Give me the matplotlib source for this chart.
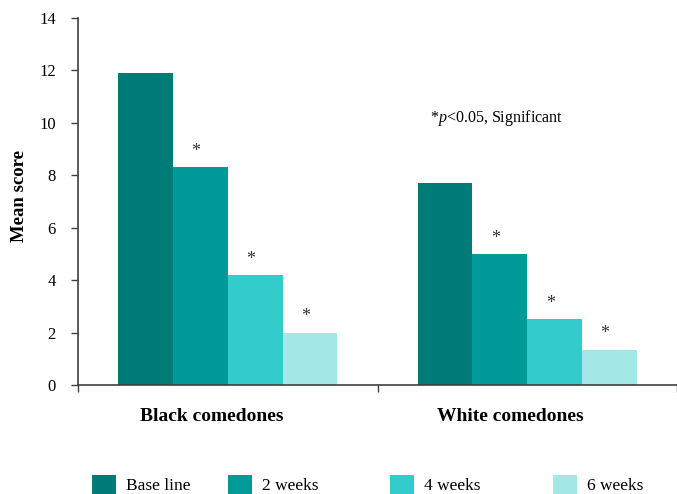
import numpy as np
import matplotlib.pyplot as plt

plt.rcParams['font.family'] = ['Liberation Serif', 'DejaVu Serif']
plt.rcParams['mathtext.fontset'] = 'custom'
plt.rcParams['mathtext.it'] = 'Liberation Serif:italic'
plt.rcParams['mathtext.rm'] = 'Liberation Serif'

# datos
grupos = ['Black comedones', 'White comedones']
series = ['Base line', '2 weeks', '4 weeks', '6 weeks']
baseline = [11.9, 7.7]
week2 = [8.3, 5.0]
week4 = [4.2, 2.5]
week6 = [2.0, 1.35]
signif = [False, True, True, True]
colores = ['#007B77', '#009A98', '#33CCCC', '#A3E8E6']

valores = [baseline, week2, week4, week6]

fig = plt.figure(figsize=(6.77, 4.94), dpi=100)
ax = fig.add_axes([78 / 677, 109 / 494, 599 / 677, 367 / 494])

x = np.array([0.5, 1.5])
w = 0.183
barras = []
for i, (v, c) in enumerate(zip(valores, colores)):
    pos = x + (i - 1.5) * w
    b = ax.bar(pos, v, width=w, color=c, linewidth=0, label=series[i])
    barras.append(b)
    if signif[i]:
        for px, py in zip(pos, v):
            ax.text(px - 0.015, py + 0.6, '*', ha='center', va='center',
                    fontsize=13, color='#333333')

ax.set_xlim(0, 2)
ax.set_ylim(0, 14)
ax.set_yticks(np.arange(0, 15, 2))
ax.set_xticks([0, 1, 2])
ax.set_xticklabels([])
ax.tick_params(axis='y', labelsize=12, length=5, width=1, color='#404040', pad=11)
ax.tick_params(axis='x', length=5, width=1, color='#404040')
for s in ['top', 'right']:
    ax.spines[s].set_visible(False)
for s in ['left', 'bottom']:
    ax.spines[s].set_color('#404040')
    ax.spines[s].set_linewidth(1.2)

for xi, g in zip(x, grupos):
    ax.text(xi - 0.055, -1.2, g, ha='center', va='center', fontsize=14,
            fontweight='bold', transform=ax.transData)

ax.set_ylabel('Mean score', fontsize=13.5, fontweight='bold')
ax.yaxis.set_label_coords(-0.083, 0.515)

ax.text(1.175, 10.2, r'*$\it{p}$<0.05, Significant', fontsize=11.5,
        ha='left', va='center')

# leyenda, una entrada por vez
xs_leg = [92, 228, 390, 553]
for b, xl in zip(barras, xs_leg):
    fig.legend(handles=[b], loc='upper left',
               bbox_to_anchor=(xl / 677, 1 - 475 / 494),
               frameon=False, fontsize=12.5, borderpad=0, borderaxespad=0,
               handlelength=1.4, handleheight=1.3, handletextpad=0.55)

fig.savefig('out.png', dpi=100)
